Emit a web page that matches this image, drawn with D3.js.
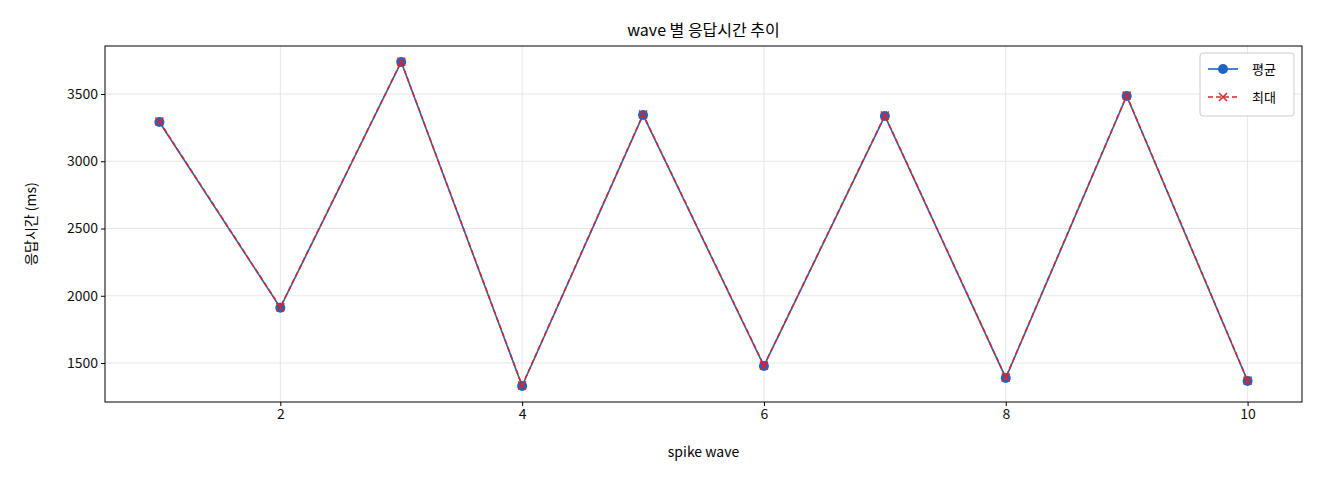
<!DOCTYPE html>
<html><head><meta charset="utf-8">
<script src="https://cdn.jsdelivr.net/npm/d3@7"></script>
<style>body{margin:0;background:#fff}text{font-family:"Noto Sans CJK KR","Noto Sans",sans-serif}</style>
</head><body><svg id="c" width="1320" height="480"></svg>
<script>
const waves=[1,2,3,4,5,6,7,8,9,10];
const avgMs=[3292,1911,3738,1329,3344,1478,3337,1389,3485,1366];
const maxMs=[3295,1914,3740,1332,3347,1481,3340,1392,3488,1369];
const yTicks=[1500,2000,2500,3000,3500];
const xTicks=[2,4,6,8,10];
const svg=d3.select("#c");
const L=105,R=1302,T=46,B=402;
const x=d3.scaleLinear().domain([0.55,10.45]).range([L,R]);
const y=d3.scaleLinear().domain([1210,3857]).range([B,T]);
const g=svg.append("g");
xTicks.forEach(t=>g.append("line").attr("x1",x(t)).attr("x2",x(t)).attr("y1",T).attr("y2",B).attr("stroke","#e6e6e6"));
yTicks.forEach(t=>g.append("line").attr("y1",y(t)).attr("y2",y(t)).attr("x1",L).attr("x2",R).attr("stroke","#e6e6e6"));
const xa=svg.append("g").attr("transform",`translate(0,${B})`).call(d3.axisBottom(x).tickValues(xTicks).tickFormat(d3.format("d")).tickSize(4).tickSizeOuter(0));
const ya=svg.append("g").attr("transform",`translate(${L},0)`).call(d3.axisLeft(y).tickValues(yTicks).tickFormat(d3.format("d")).tickSize(4).tickSizeOuter(0));
[xa,ya].forEach(a=>{a.select(".domain").remove();a.selectAll("text").attr("font-size",14).attr("fill","#111");a.selectAll("line").attr("stroke","#000")});
svg.append("rect").attr("x",L).attr("y",T).attr("width",R-L).attr("height",B-T).attr("fill","none").attr("stroke","#000");
const line=d3.line().x((d,i)=>x(waves[i])).y(d=>y(d));
svg.append("path").attr("d",line(avgMs)).attr("fill","none").attr("stroke","#1f63c4").attr("stroke-width",1.6);
svg.selectAll(".pt").data(avgMs).enter().append("circle").attr("cx",(d,i)=>x(waves[i])).attr("cy",d=>y(d)).attr("r",5).attr("fill","#1f63c4");
svg.append("path").attr("d",line(maxMs)).attr("fill","none").attr("stroke","#d62728").attr("stroke-width",1.6).attr("stroke-dasharray","5,3");
const cross=(cx,cy,s)=>`M${cx-s},${cy-s}L${cx+s},${cy+s}M${cx-s},${cy+s}L${cx+s},${cy-s}`;
maxMs.forEach((d,i)=>svg.append("path").attr("d",cross(x(waves[i]),y(d),4)).attr("stroke","#d62728").attr("stroke-width",1.5));
svg.append("text").attr("x",(L+R)/2).attr("y",36).attr("text-anchor","middle").attr("font-size",16).text("wave 별 응답시간 추이");
svg.append("text").attr("x",(L+R)/2).attr("y",457).attr("text-anchor","middle").attr("font-size",14).text("spike wave");
svg.append("text").attr("transform",`translate(36,${(T+B)/2}) rotate(-90)`).attr("text-anchor","middle").attr("font-size",14).text("응답시간 (ms)");
const lg=svg.append("g").attr("transform","translate(1200,53)");
lg.append("rect").attr("width",94).attr("height",63).attr("rx",3).attr("fill","#fff").attr("stroke","#ccc");
lg.append("line").attr("x1",8).attr("x2",38).attr("y1",16).attr("y2",16).attr("stroke","#1f63c4").attr("stroke-width",1.6);
lg.append("circle").attr("cx",23).attr("cy",16).attr("r",5).attr("fill","#1f63c4");
lg.append("text").attr("x",52).attr("y",21).attr("font-size",13).text("평균");
lg.append("line").attr("x1",8).attr("x2",38).attr("y1",44).attr("y2",44).attr("stroke","#d62728").attr("stroke-width",1.6).attr("stroke-dasharray","5,3");
lg.append("path").attr("d",cross(23,44,4)).attr("stroke","#d62728").attr("stroke-width",1.5);
lg.append("text").attr("x",52).attr("y",49).attr("font-size",13).text("최대");
</script></body></html>
